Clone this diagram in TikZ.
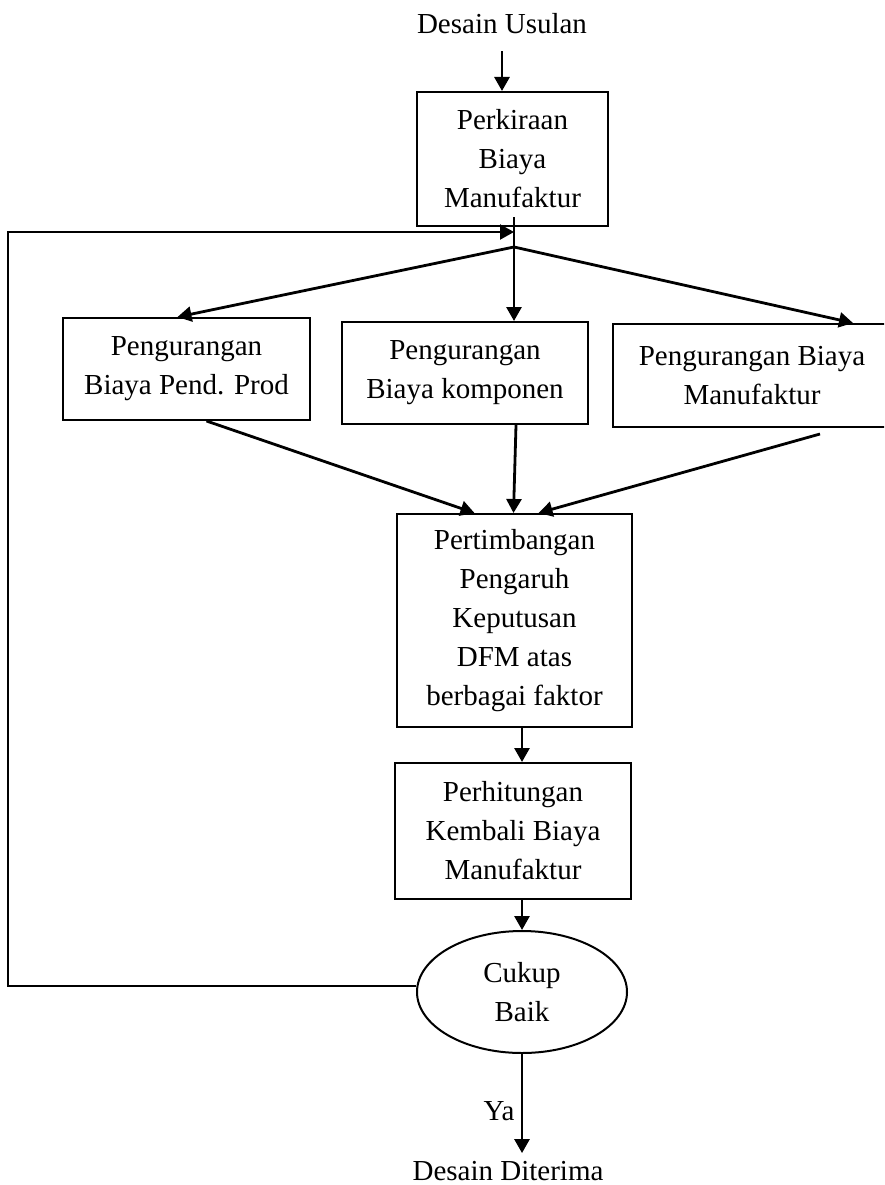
\documentclass[tikz,border=0pt]{standalone}
\usepackage{fontspec}
\setmainfont{Liberation Serif}
\usetikzlibrary{arrows.meta,shapes.geometric}

\begin{document}
\begin{tikzpicture}[x=1pt,y=-1pt,>={Triangle[length=14pt,width=15pt]},
    line join=miter,
    txt/.style={font=\fontsize{29}{39}\selectfont,align=center,inner sep=0pt},
    stepbox/.style={txt,draw,rectangle,line width=2pt},
    link/.style={->,line width=2.8pt},
    back/.style={->,line width=2.2pt}]
  \useasboundingbox (0,0) rectangle (884,1185);
  \clip (0,0) rectangle (884,1185);

  % The proposed design enters the first cost estimate.
  \node[txt] (usulan) at (502,24) {Desain Usulan};
  \node[stepbox,minimum width=191pt,minimum height=134pt] (perkiraan)
    at (512.5,159) {Perkiraan\\Biaya\\Manufaktur};

  % The three reductions; the right one runs past the page edge.
  \node[stepbox,minimum width=247pt,minimum height=102pt] (pendprod)
    at (186.5,369) {Pengurangan\\Biaya Pend. Prod};
  \node[stepbox,minimum width=246pt,minimum height=102pt] (komponen)
    at (465,373) {Pengurangan\\Biaya komponen};
  \node[stepbox,minimum width=278pt,minimum height=103pt] (manuf)
    at (752,375.5) {Pengurangan Biaya\\Manufaktur};

  \node[stepbox,minimum width=235pt,minimum height=213pt] (pertimbangan)
    at (514.5,620.5) {Pertimbangan\\Pengaruh\\Keputusan\\DFM atas\\berbagai faktor};
  \node[stepbox,minimum width=236pt,minimum height=136pt] (perhitungan)
    at (513,831) {Perhitungan\\Kembali Biaya\\Manufaktur};
  \node[txt,draw,ellipse,line width=2pt,minimum width=210pt,
    minimum height=122pt] (cukup) at (522,992) {Cukup\\Baik};
  \node[txt] (diterima) at (508,1171) {Desain Diterima};

  \coordinate (fan) at (514,247);
  \coordinate (looptop) at (8,232);

  % Main flow.
  \draw[link] ([yshift=-17pt]usulan.south) -- (usulan.south |- perkiraan.north);
  \draw[link] ([yshift=10pt]perkiraan.south -| fan) -- (fan |- komponen.north);
  \draw[link] (fan) -- ([xshift=-9pt]pendprod.north);
  \draw[link] (fan) -- ([xshift=101pt]manuf.north);
  \draw[link] ([xshift=20pt]pendprod.south) -- ([xshift=-40pt]pertimbangan.north);
  \draw[link] ([xshift=51pt]komponen.south) -- ([xshift=-1pt]pertimbangan.north);
  \draw[link] ([xshift=68pt,yshift=-6pt]manuf.south) -- ([xshift=24pt]pertimbangan.north);
  \draw[link] (cukup |- pertimbangan.south) -- (cukup |- perhitungan.north);
  \draw[link] (cukup |- perhitungan.south) -- (cukup.north);
  \draw[link] (cukup.south) -- node[txt,pos=.58,left=6pt] (ya) {Ya}
    ([yshift=8pt]cukup.south |- diterima.north);

  % Not good enough: back to the estimate.
  \draw[back] ([yshift=6pt]cukup.west) -| (looptop) -- (looptop -| fan);
\end{tikzpicture}
\end{document}
